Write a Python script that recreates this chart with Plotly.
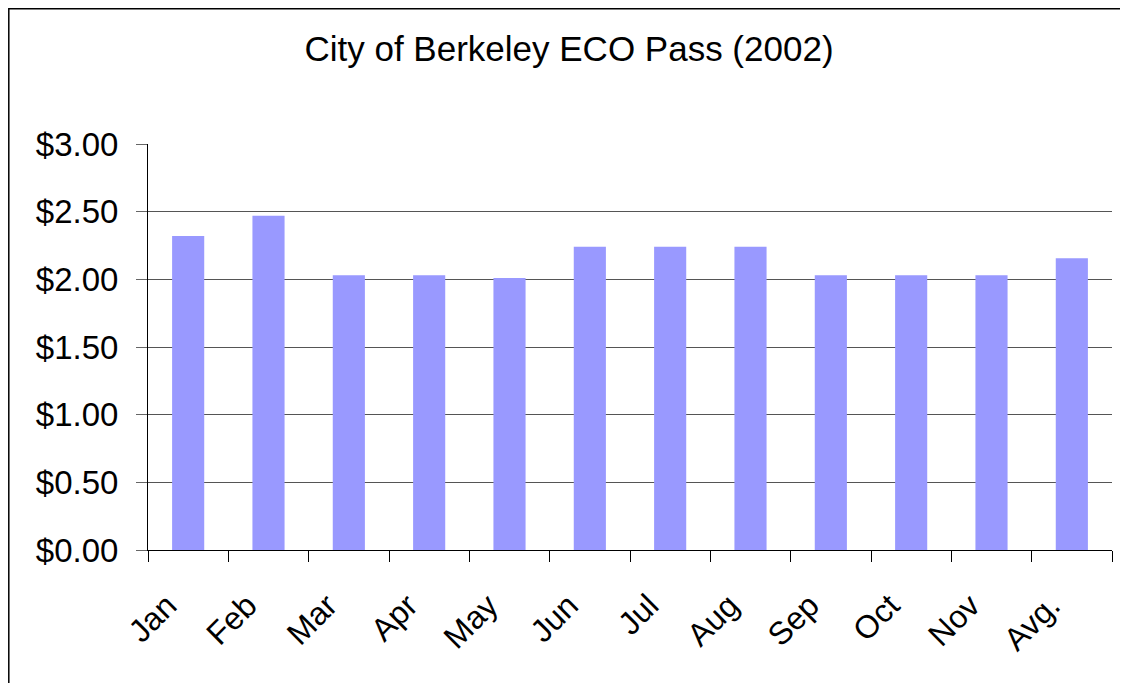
import plotly.graph_objects as go

months = ["Jan", "Feb", "Mar", "Apr", "May", "Jun", "Jul", "Aug", "Sep", "Oct", "Nov", "Avg."]
cost = [2.32, 2.47, 2.03, 2.03, 2.01, 2.24, 2.24, 2.24, 2.03, 2.03, 2.03, 2.155]
y_ticks = [0, 0.5, 1.0, 1.5, 2.0, 2.5, 3.0]
y_tick_labels = ["$0.00", "$0.50", "$1.00", "$1.50", "$2.00", "$2.50", "$3.00"]
title_text = "City of Berkeley ECO Pass (2002)"

FONT = "Liberation Sans, Arial, sans-serif"

# page body has an 8px margin; figure is positioned at (8, 8) on the page
OFF = 8
W, H = 1120, 675
PL, PR, PT, PB = 148, 1112, 144, 550  # plot area on the page

fig = go.Figure(
    go.Bar(
        x=months,
        y=cost,
        marker=dict(color="#9999FF", line=dict(width=0)),
        width=0.4,
    )
)

fig.update_layout(
    width=W,
    height=H,
    margin=dict(l=PL - OFF, r=W + OFF - PR, t=PT - OFF, b=H + OFF - PB, autoexpand=False),
    paper_bgcolor="white",
    plot_bgcolor="white",
    showlegend=False,
    font=dict(family=FONT, color="black", size=32),
    title=dict(
        text=title_text,
        x=(569 - OFF) / W,
        xanchor="center",
        xref="container",
        y=1 - (49 - OFF) / H,
        yanchor="middle",
        yref="container",
        font=dict(family=FONT, size=35, color="black"),
    ),
)

fig.update_xaxes(
    type="category",
    showline=True,
    linecolor="black",
    linewidth=1,
    ticks="outside",
    tickson="boundaries",
    ticklen=11,
    tickcolor="black",
    tickwidth=1,
    tickangle=-45,
    ticklabelstandoff=23,
    ticklabelshift=-21,
    tickfont=dict(family=FONT, size=32, color="black"),
    showgrid=False,
    fixedrange=True,
)

fig.update_yaxes(
    range=[0, 3],
    tickvals=y_ticks,
    ticktext=y_tick_labels,
    showline=True,
    linecolor="black",
    linewidth=1,
    ticks="outside",
    ticklen=11,
    tickcolor="#666666",
    tickwidth=1,
    ticklabelstandoff=11,
    showgrid=True,
    gridcolor="#555555",
    gridwidth=1,
    zeroline=False,
    tickfont=dict(family=FONT, size=33, color="black"),
    fixedrange=True,
)

# outer chart-area border (Excel style)
pw, ph = PR - PL, PB - PT
fig.add_shape(
    type="rect",
    xref="paper", yref="paper",
    x0=(8.8 - PL) / pw, x1=(1140 - PL) / pw,
    y0=(PB - 700) / ph, y1=(PB - 8.8) / ph,
    line=dict(color="black", width=1.5),
    fillcolor="rgba(0,0,0,0)",
    layer="below",
)

fig.write_html("out.html", config={"displayModeBar": False})
